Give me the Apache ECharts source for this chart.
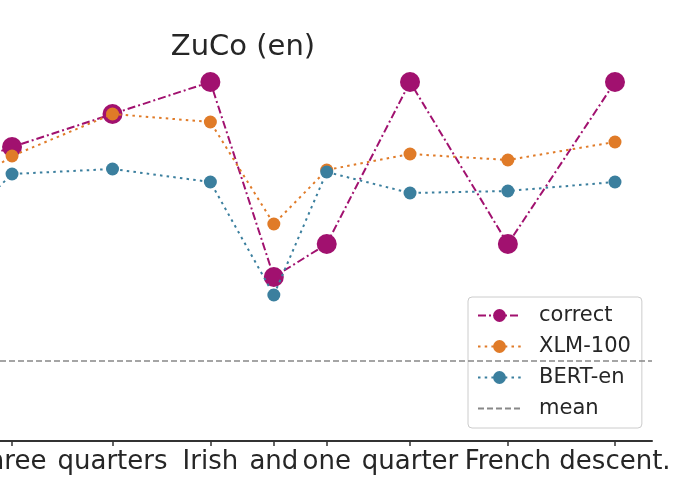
<!DOCTYPE html>
<html>
<head>
<meta charset="utf-8">
<script src="https://cdn.jsdelivr.net/npm/echarts@6/dist/echarts.min.js"></script>
<style>
  html, body { margin: 0; padding: 0; background: #fff; }
  #chart { width: 680px; height: 500px; }
</style>
</head>
<body>
<div id="chart"></div>
<script>
// Words of the sentence (first one is off-screen / cut off in the reference)
const words = ['', 'three', 'quarters', 'Irish', 'and', 'one', 'quarter', 'French', 'descent.'];
// Word positions along the sentence (character-centre units)
const xPos = [-2.5, 2.5, 10.1, 17.5, 22.3, 26.3, 32.6, 40.0, 48.1];
// Series values
const correct = [27.0, 29.4, 32.7, 35.9, 16.4, 19.7, 35.9, 19.7, 35.9];
const xlm100  = [24.2, 28.5, 32.7, 31.9, 21.7, 27.1, 28.7, 28.1, 29.9];
const bertEn  = [20.2, 26.7, 27.2, 25.9, 14.6, 26.9, 24.8, 25.0, 25.9];
const meanValue = 8.0;

const pairs = vals => vals.map((v, i) => [xPos[i], v]);
const labelValues = xPos.slice(1);
const labelFor = v => { const i = xPos.indexOf(v); return i >= 0 ? words[i] : ''; };

const chart = echarts.init(document.getElementById('chart'), null, { renderer: 'canvas' });
const textColor = '#262626';
const FONT = 'DejaVu Sans';

chart.setOption({
  animation: false,
  backgroundColor: '#ffffff',
  title: {
    text: 'ZuCo (en)',
    left: 238,
    textAlign: 'center',
    top: 28,
    textStyle: { fontFamily: FONT, fontSize: 29, fontWeight: 'normal', color: textColor }
  },
  grid: { left: 0, right: 28, top: 41, bottom: 59, containLabel: false, outerBoundsMode: 'none' },
  xAxis: {
    type: 'value',
    min: 1.59,
    max: 50.9,
    splitLine: { show: false },
    axisLine: { show: true, lineStyle: { color: '#333333', width: 2 } },
    axisTick: { show: true, length: 5, customValues: labelValues, lineStyle: { color: '#333333', width: 1.5 } },
    axisLabel: {
      show: true,
      customValues: labelValues,
      formatter: labelFor,
      margin: 8,
      hideOverlap: false,
      fontFamily: FONT,
      fontSize: 26,
      color: textColor
    }
  },
  yAxis: {
    type: 'value',
    min: 0,
    max: 40,
    show: false,
    splitLine: { show: false }
  },
  legend: {
    left: 468,
    top: 297,
    orient: 'vertical',
    padding: [8, 11, 9, 9],
    itemWidth: 43,
    itemHeight: 16,
    itemGap: 10,
    backgroundColor: 'rgba(255,255,255,0.8)',
    borderColor: '#cccccc',
    borderWidth: 1,
    borderRadius: 4,
    textStyle: { fontFamily: FONT, fontSize: 21, color: textColor, lineHeight: 21, padding: [0, 0, 0, 13] },
    data: ['correct', 'XLM-100', 'BERT-en', { name: 'mean', itemStyle: { opacity: 0 } }]
  },
  series: [
    {
      name: 'correct',
      type: 'line',
      data: pairs(correct),
      symbol: 'circle',
      symbolSize: 20,
      color: '#a1116f',
      itemStyle: { color: '#a1116f' },
      lineStyle: { color: '#a1116f', width: 2, type: [8, 3, 2, 3] },
      z: 2
    },
    {
      name: 'XLM-100',
      type: 'line',
      data: pairs(xlm100),
      symbol: 'circle',
      symbolSize: 13,
      color: '#e07b28',
      itemStyle: { color: '#e07b28' },
      lineStyle: { color: '#e07b28', width: 2, type: [2.5, 4.2] },
      z: 3
    },
    {
      name: 'BERT-en',
      type: 'line',
      data: pairs(bertEn),
      symbol: 'circle',
      symbolSize: 13,
      color: '#3b7f9e',
      itemStyle: { color: '#3b7f9e' },
      lineStyle: { color: '#3b7f9e', width: 2, type: [2.5, 4.2] },
      z: 4
    },
    {
      name: 'mean',
      type: 'line',
      data: [],
      symbol: 'none',
      color: '#888888',
      itemStyle: { color: '#888888' },
      lineStyle: { color: '#888888', width: 1.5, type: [6, 3] },
      markLine: {
        silent: true,
        symbol: 'none',
        label: { show: false },
        lineStyle: { color: '#888888', width: 1.5, type: [6, 3] },
        data: [{ yAxis: meanValue }]
      },
      z: 1
    }
  ]
});
</script>
</body>
</html>
